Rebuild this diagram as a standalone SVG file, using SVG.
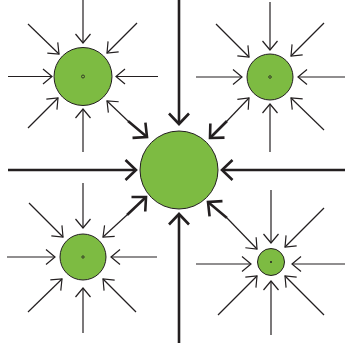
<svg xmlns="http://www.w3.org/2000/svg" width="345" height="343" viewBox="0 0 345 343">
<style>
.node{fill:#7dbb42;stroke:#231f20;stroke-width:1}
.dot{fill:none;stroke:#231f20;stroke-width:0.8}
.thin{fill:none;stroke:#231f20;stroke-width:1.2;marker-end:url(#ah)}
.thins{fill:none;stroke:#231f20;stroke-width:1.2;marker-start:url(#ahs)}
.thick{fill:none;stroke:#231f20;stroke-width:2.6;marker-end:url(#AH)}
</style>
<defs>
<marker id="ah" markerUnits="userSpaceOnUse" orient="auto" markerWidth="20" markerHeight="20" refX="10" refY="10" viewBox="0 0 20 20" overflow="visible">
<path d="M1,2.5 L10,10 L1,17.5" fill="none" stroke="#231f20" stroke-width="1.2"/>
</marker>
<marker id="ahs" markerUnits="userSpaceOnUse" orient="auto-start-reverse" markerWidth="20" markerHeight="20" refX="10" refY="10" viewBox="0 0 20 20" overflow="visible">
<path d="M1,2.5 L10,10 L1,17.5" fill="none" stroke="#231f20" stroke-width="1.2"/>
</marker>
<marker id="AH" markerUnits="userSpaceOnUse" orient="auto" markerWidth="30" markerHeight="30" refX="15" refY="15" viewBox="0 0 30 30" overflow="visible">
<path d="M4.5,5 L15,15 L4.5,25" fill="none" stroke="#231f20" stroke-width="2.6"/>
</marker>
</defs>
<g id="connectors">
<path class="thick" d="M179,0 L179,124"/>
<path class="thick" d="M8,170 L136,170"/>
<path class="thick" d="M345,170 L222,170"/>
<path class="thick" d="M179,343 L179,214"/>
<path class="thin" d="M83,0 L83,43"/>
<path class="thin" d="M8,76.5 L52,76.5"/>
<path class="thin" d="M158,76.5 L116,76.5"/>
<path class="thin" d="M83,152 L83,109"/>
<path class="thin" d="M28,24 L59,54"/>
<path class="thin" d="M137,23 L107,53"/>
<path class="thin" d="M28,128 L58,98"/>
<path class="thins" d="M107,101 L128,121"/>
<path class="thick" d="M128,121 L147,137"/>
<path class="thin" d="M270,2 L270,50"/>
<path class="thin" d="M196,77 L242,77"/>
<path class="thin" d="M345,77 L298,77"/>
<path class="thin" d="M270,152 L270,104"/>
<path class="thin" d="M216,24 L249,57"/>
<path class="thin" d="M324,23 L291,56"/>
<path class="thin" d="M324,130 L291,98"/>
<path class="thins" d="M249,98 L227,121"/>
<path class="thick" d="M227,121 L210,138"/>
<path class="thin" d="M83,183 L83,228"/>
<path class="thin" d="M7,257 L55,257"/>
<path class="thin" d="M157,257 L111,257"/>
<path class="thin" d="M83,333 L83,288"/>
<path class="thin" d="M29,203 L63,237"/>
<path class="thin" d="M28,312 L62,279"/>
<path class="thin" d="M136,312 L103,279"/>
<path class="thins" d="M103,237 L127,215"/>
<path class="thick" d="M127,215 L146,197"/>
<path class="thin" d="M271,190 L271,243"/>
<path class="thin" d="M196,264 L251,264"/>
<path class="thin" d="M345,264 L292,264"/>
<path class="thin" d="M271,335 L271,281"/>
<path class="thin" d="M324,208 L285,247"/>
<path class="thin" d="M218,315 L257,276"/>
<path class="thin" d="M324,315 L285,276"/>
<path class="thins" d="M257,249 L227,218"/>
<path class="thick" d="M227,218 L208,202"/>
</g>
<g id="center"><circle class="node" cx="179" cy="170" r="39"/></g>
<g id="top-left"><circle class="node" cx="83" cy="76.5" r="29"/><circle class="dot" cx="83" cy="76.5" r="1.5"/></g>
<g id="top-right"><circle class="node" cx="270" cy="77" r="23"/><circle class="dot" cx="270" cy="77" r="1.3"/></g>
<g id="bottom-left"><circle class="node" cx="83" cy="257" r="23"/><circle class="dot" cx="83" cy="257" r="1.2"/></g>
<g id="bottom-right"><circle class="node" cx="271" cy="262" r="13.5"/><circle cx="271" cy="262" r="1" fill="#231f20"/></g>
</svg>
